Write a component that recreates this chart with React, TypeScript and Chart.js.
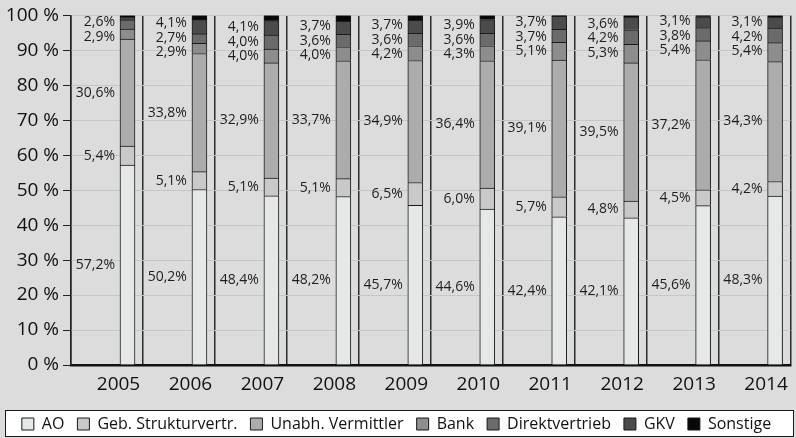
import React, { useEffect, useRef } from 'react';
import { Chart, registerables } from 'chart.js';

Chart.register(...registerables);

const FONT = '"Open Sans", sans-serif';

const years = ['2005', '2006', '2007', '2008', '2009', '2010', '2011', '2012', '2013', '2014'];
const ao = [57.2, 50.2, 48.4, 48.2, 45.7, 44.6, 42.4, 42.1, 45.6, 48.3];
const geb = [5.4, 5.1, 5.1, 5.1, 6.5, 6.0, 5.7, 4.8, 4.5, 4.2];
const unabh = [30.6, 33.8, 32.9, 33.7, 34.9, 36.4, 39.1, 39.5, 37.2, 34.3];
const bank = [2.9, 2.9, 4.0, 4.0, 4.2, 4.3, 5.1, 5.3, 5.4, 5.4];
const direkt = [2.6, 2.7, 4.0, 3.6, 3.6, 3.6, 3.7, 4.2, 3.8, 4.2];
const gkv = [0.8, 4.1, 4.1, 3.7, 3.7, 3.9, 3.7, 3.6, 3.1, 3.1];
const sonstige = [0.5, 1.2, 1.5, 1.7, 1.4, 1.2, 0.3, 0.5, 0.4, 0.5];

const seriesNames = ['AO', 'Geb. Strukturvertr.', 'Unabh. Vermittler', 'Bank', 'Direktvertrieb', 'GKV', 'Sonstige'];
const seriesValues = [ao, geb, unabh, bank, direkt, gkv, sonstige];
const seriesColors = ['#e6e7e7', '#c9c9c9', '#acacac', '#8d8d8d', '#6b6b6b', '#4b4b4b', '#080808'];

const BAR_POS = 0.785; // bar centre within each year cell
const LABEL_POS = 0.66; // year label centre within each year cell

const fmt = (v: number) => v.toFixed(1).replace('.', ',') + '%';

const bgPlugin = {
  id: 'bgPlugin',
  beforeDraw(chart: any) {
    const { ctx, width, height } = chart;
    ctx.save();
    ctx.fillStyle = '#dcdcdc';
    ctx.fillRect(0, 0, width, height);
    const lg = chart.legend;
    if (lg && lg.legendHitBoxes && lg.legendHitBoxes.length) {
      const hb = lg.legendHitBoxes[0];
      const cy = hb.top + hb.height / 2;
      ctx.fillStyle = '#ffffff';
      ctx.fillRect(5.5, Math.round(cy - 14) + 0.5, 788, 26);
      ctx.strokeStyle = '#1a1a1a';
      ctx.lineWidth = 1;
      ctx.strokeRect(5.5, Math.round(cy - 14) + 0.5, 788, 26);
    }
    ctx.restore();
  },
};

const labelPlugin = {
  id: 'segLabels',
  afterDatasetsDraw(chart: any) {
    const ctx = chart.ctx;
    ctx.save();
    ctx.font = `14px ${FONT}`;
    ctx.fillStyle = '#1e1e1e';
    ctx.textAlign = 'right';
    ctx.textBaseline = 'middle';
    years.forEach((_, i) => {
      const el = (d: number) => chart.getDatasetMeta(d).data[i];
      const val = (d: number) => seriesValues[d][i];
      const draw = (d: number, y: number) => {
        const e = el(d);
        ctx.fillText(fmt(val(d)), e.x - e.width / 2 - 5, y);
      };
      [0, 1, 2].forEach((d) => {
        if (val(d) >= 2) {
          const e = el(d);
          draw(d, (e.y + e.base) / 2);
        }
      });
      const small = [5, 4, 3].filter((d) => val(d) >= 2);
      if (small.length) {
        const centers = small.map((d) => {
          const e = el(d);
          return (e.y + e.base) / 2;
        });
        const mean = centers.reduce((a, b) => a + b, 0) / centers.length;
        small.forEach((d, k) => draw(d, mean + (k - (small.length - 1) / 2) * 14.5));
      }
    });
    ctx.restore();
  },
};

export default function App() {
  const ref = useRef<HTMLCanvasElement | null>(null);

  useEffect(() => {
    if (!ref.current) return;
    const chart = new Chart(ref.current, {
      type: 'bar',
      data: {
        datasets: seriesNames.map((name, d) => ({
          label: name,
          data: seriesValues[d].map((v, i) => ({ x: i + BAR_POS, y: v })),
          backgroundColor: seriesColors[d],
          borderColor: '#1a1a1a',
          borderWidth: 1,
          barThickness: 15,
          xAxisID: 'x',
          yAxisID: 'y',
        })),
      },
      options: {
        responsive: false,
        animation: false,
        layout: { padding: { top: 14, right: 3, left: 0, bottom: -4 } },
        plugins: {
          tooltip: { enabled: false },
          legend: {
            position: 'bottom',
            labels: {
              font: { family: FONT, size: 16 },
              color: '#111',
              boxWidth: 12,
              boxHeight: 12,
              padding: 13,
            },
          },
        },
        scales: {
          x: {
            type: 'linear',
            stacked: true,
            offset: false,
            min: 0,
            max: years.length,
            position: 'bottom',
            ticks: { display: false, stepSize: 1 },
            grid: { color: '#2a2a2a', lineWidth: 1.5, drawTicks: false, offset: false },
            border: { display: true, color: '#111', width: 2.5 },
            afterFit: (s: any) => {
              s.height = 0;
            },
          },
          x2: {
            type: 'linear',
            offset: false,
            min: 0,
            max: years.length,
            position: 'bottom',
            grid: { display: false, drawTicks: false, offset: false },
            border: { display: false },
            ticks: {
              autoSkip: false,
              maxRotation: 0,
              font: { family: FONT, size: 19 },
              color: '#111',
              padding: 8,
              callback: (_v: any, idx: number) => years[idx],
            },
            afterBuildTicks: (s: any) => {
              s.ticks = years.map((_, i) => ({ value: i + LABEL_POS }));
            },
            afterFit: (s: any) => {
              const lh = s.chart.legend ? s.chart.legend.height : 42;
              s.height = 438 - 365 + 4 - lh;
            },
          },
          y: {
            type: 'linear',
            stacked: true,
            min: 0,
            max: 100,
            ticks: {
              stepSize: 10,
              font: { family: FONT, size: 19 },
              color: '#111',
              padding: 4,
              callback: (v: any) => v + ' %',
            },
            grid: { color: '#c6c6c6', lineWidth: 1, tickColor: '#222', tickLength: 8 },
            border: { display: true, color: '#222', width: 1.5 },
            afterFit: (s: any) => {
              s.width = 71;
            },
          },
        },
      },
      plugins: [bgPlugin, labelPlugin],
    } as any);
    return () => chart.destroy();
  }, []);

  return (
    <div style={{ position: 'absolute', left: 0, top: 0, width: 796, height: 438 }}>
      <canvas ref={ref} width={796} height={438} style={{ display: 'block', width: 796, height: 438 }} />
    </div>
  );
}
